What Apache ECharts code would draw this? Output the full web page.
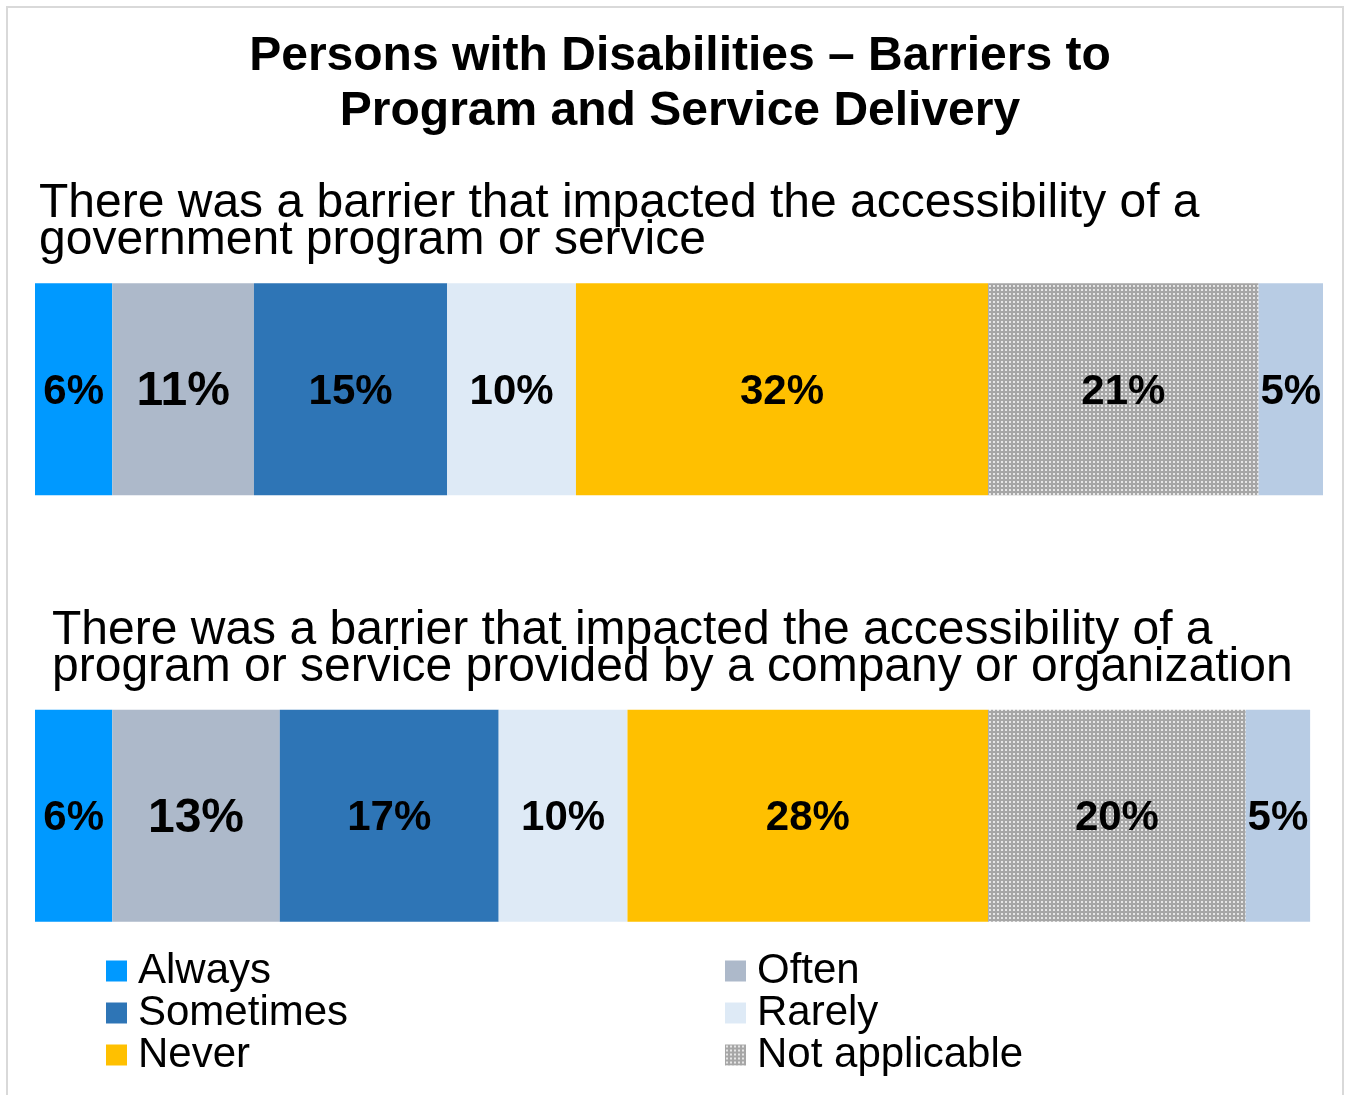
<!DOCTYPE html>
<html>
<head>
<meta charset="utf-8">
<script src="https://cdn.jsdelivr.net/npm/echarts@6/dist/echarts.min.js"></script>
<style>
  html, body { margin: 0; padding: 0; background: #fff; }
  #main { width: 1347px; height: 1095px; }
</style>
</head>
<body>
<div id="main"></div>
<script>
// data
var questions = ['Government program or service', 'Company or organization program or service'];
var always = [6, 6];
var often = [11, 13];
var sometimes = [15, 17];
var rarely = [10, 10];
var never = [32, 28];
var notApplicable = [21, 20];
var unlabelled = [5, 5];

var FONT = 'Arial, "Liberation Sans", sans-serif';

// dotted grey fill for "Not applicable"
var dots = document.createElement('canvas');
dots.width = 4;
dots.height = 4;
var ctx = dots.getContext('2d');
ctx.fillStyle = '#a6a6a6';
ctx.fillRect(0, 0, 4, 4);
ctx.fillStyle = '#e6e6e6';
ctx.fillRect(1, 1, 2, 2);

var chart = echarts.init(document.getElementById('main'));

function seg(name, values, color, size) {
  return {
    name: name,
    type: 'bar',
    stack: 'all',
    barWidth: 212,
    data: values,
    itemStyle: { color: color },
    label: {
      show: true,
      position: 'inside',
      offset: [0, 3],
      formatter: '{c}%',
      color: '#000',
      fontFamily: FONT,
      fontWeight: 'bold',
      fontSize: size || 42
    }
  };
}

var legendText = { fontFamily: FONT, fontSize: 42, color: '#000', lineHeight: 42, padding: [0, 0, 0, 6] };

option = {
  animation: false,
  title: [
    {
      text: 'Persons with Disabilities \u2013 Barriers to\nProgram and Service Delivery',
      left: 675, top: 24, textAlign: 'center',
      textStyle: { fontFamily: FONT, fontSize: 48, fontWeight: 'bold', color: '#000', lineHeight: 55 }
    },
    {
      text: 'There was a barrier that impacted the accessibility of a\ngovernment program or service',
      left: 34, top: 180,
      textStyle: { fontFamily: FONT, fontSize: 48, fontWeight: 'normal', color: '#000', lineHeight: 37 }
    },
    {
      text: 'There was a barrier that impacted the accessibility of a\nprogram or service provided by a company or organization',
      left: 47, top: 607,
      textStyle: { fontFamily: FONT, fontSize: 48, fontWeight: 'normal', color: '#000', lineHeight: 37 }
    }
  ],
  legend: [
    {
      orient: 'vertical', left: 101, top: 945,
      icon: 'rect', itemWidth: 21, itemHeight: 21, itemGap: 0,
      data: ['Always', 'Sometimes', 'Never'],
      textStyle: legendText
    },
    {
      orient: 'vertical', left: 720, top: 945,
      icon: 'rect', itemWidth: 21, itemHeight: 21, itemGap: 0,
      data: ['Often', 'Rarely', 'Not applicable'],
      textStyle: legendText
    }
  ],
  grid: { left: 35, width: 1288, top: 176, height: 853 },
  xAxis: { type: 'value', min: 0, max: 100, show: false },
  yAxis: { type: 'category', data: questions, inverse: true, show: false },
  graphic: [
    {
      type: 'rect', silent: true,
      shape: { x: 7, y: 7, width: 1336, height: 1110 },
      style: { fill: 'none', stroke: '#d9d9d9', lineWidth: 2 }
    }
  ],
  series: [
    seg('Always', always, '#0099ff'),
    seg('Often', often, '#adb9ca', 48),
    seg('Sometimes', sometimes, '#2e75b6'),
    seg('Rarely', rarely, '#deeaf6'),
    seg('Never', never, '#ffc000'),
    seg('Not applicable', notApplicable, { image: dots, repeat: 'repeat' }),
    seg('Unlabelled', unlabelled, '#b8cce4')
  ]
};

chart.setOption(option);
</script>
</body>
</html>
